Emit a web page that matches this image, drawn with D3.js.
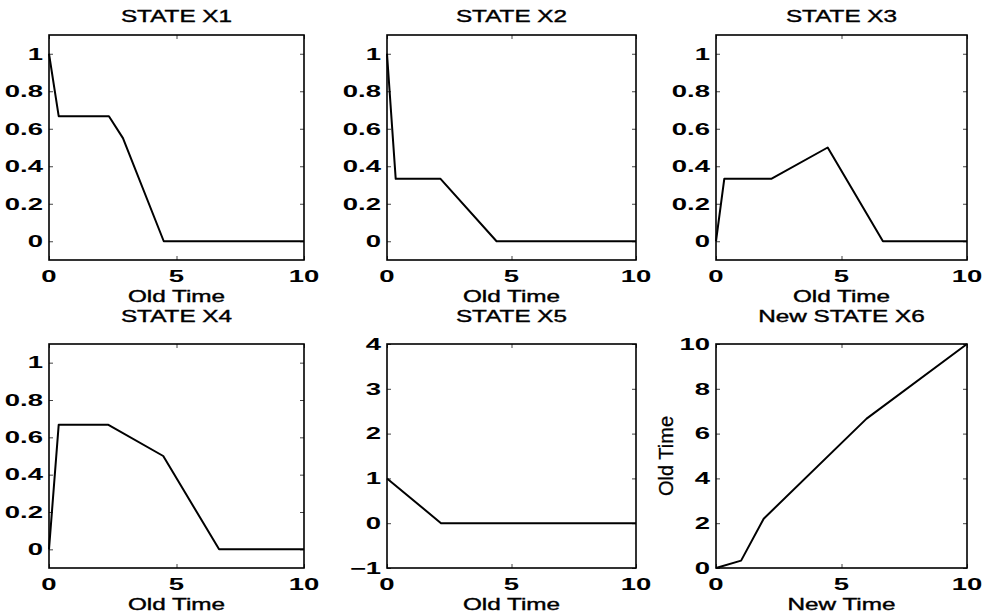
<!DOCTYPE html>
<html>
<head>
<meta charset="utf-8">
<script src="https://cdn.jsdelivr.net/npm/d3@7"></script>
<style>
  body { margin: 0; background: #fff; }
  text { font-family: "Liberation Sans", Arial, Helvetica, sans-serif; fill: #000; }
</style>
</head>
<body>
<div id="chart"></div>
<script>
// series (x = time, y = state value)
const x1Time = [0, 0.38, 2.35, 2.9, 4.5, 10];
const x1Vals = [1, 0.667, 0.667, 0.55, 0, 0];
const x2Time = [0, 0.35, 2.15, 4.4, 10];
const x2Vals = [1, 0.333, 0.333, 0, 0];
const x3Time = [0, 0.33, 2.2, 4.45, 6.65, 10];
const x3Vals = [0, 0.333, 0.333, 0.5, 0, 0];
const x4Time = [0, 0.38, 2.33, 4.48, 6.67, 10];
const x4Vals = [0, 0.667, 0.667, 0.5, 0, 0];
const x5Time = [0, 2.17, 10];
const x5Vals = [1, 0, 0];
const x6NewTime = [0, 1, 1.9, 6, 10];
const x6OldTime = [0, 0.33, 2.2, 6.67, 10];

const titles = ["STATE X1", "STATE X2", "STATE X3", "STATE X4", "STATE X5", "New STATE X6"];
const xLabels = ["Old Time", "Old Time", "Old Time", "Old Time", "Old Time", "New Time"];
const xTicks = [0, 5, 10];
const unitTicks = [0, 0.2, 0.4, 0.6, 0.8, 1];
const x5Ticks = [-1, 0, 1, 2, 3, 4];
const x6Ticks = [0, 2, 4, 6, 8, 10];

// the scan is stretched sideways, so the text is too
const TEXT_SX = 1.43;
const TICK_SX = 1.72;

const cols = [[49, 304], [387, 636], [716, 967]];
const rows = [{ top: 35, bottom: 260, titleY: 22 }, { top: 344, bottom: 568, titleY: 322 }];

var panels = [
  { t: x1Time, v: x1Vals, ydom: [-0.1, 1.1], yticks: unitTicks },
  { t: x2Time, v: x2Vals, ydom: [-0.1, 1.1], yticks: unitTicks },
  { t: x3Time, v: x3Vals, ydom: [-0.1, 1.1], yticks: unitTicks },
  { t: x4Time, v: x4Vals, ydom: [-0.1, 1.1], yticks: unitTicks },
  { t: x5Time, v: x5Vals, ydom: [-1, 4], yticks: x5Ticks },
  { t: x6NewTime, v: x6OldTime, ydom: [0, 10], yticks: x6Ticks, yLabel: "Old Time" },
];

var svg = d3
  .select("#chart")
  .append("svg")
  .attr("width", 986)
  .attr("height", 615);

function fmt(d) {
  return String(+d.toFixed(1)).replace("-", "\u2212");
}

panels.forEach(function (p, i) {
  var col = cols[i % 3];
  var row = rows[Math.floor(i / 3)];
  var x = d3.scaleLinear().domain([0, 10]).range(col);
  var y = d3.scaleLinear().domain(p.ydom).range([row.bottom, row.top]);
  var g = svg.append("g");

  // inward ticks on all four sides
  g.append("g")
    .attr("transform", "translate(0," + row.bottom + ")")
    .call(d3.axisBottom(x).tickValues(xTicks).tickSize(-4).tickSizeOuter(0).tickFormat(""));
  g.append("g")
    .attr("transform", "translate(0," + row.top + ")")
    .call(d3.axisTop(x).tickValues(xTicks).tickSize(-4).tickSizeOuter(0).tickFormat(""));
  g.append("g")
    .attr("transform", "translate(" + col[0] + ",0)")
    .call(d3.axisLeft(y).tickValues(p.yticks).tickSize(-4).tickSizeOuter(0).tickFormat(""));
  g.append("g")
    .attr("transform", "translate(" + col[1] + ",0)")
    .call(d3.axisRight(y).tickValues(p.yticks).tickSize(-4).tickSizeOuter(0).tickFormat(""));
  g.selectAll(".domain").remove();
  g.selectAll(".tick line").attr("stroke", "#444").attr("stroke-width", 1);

  // tick labels
  g.selectAll(".xlab")
    .data(xTicks)
    .enter()
    .append("text")
    .attr("transform", function (d) {
      return "translate(" + x(d) + "," + (row.bottom + 21.5) + ") scale(" + TICK_SX + ",1)";
    })
    .attr("text-anchor", "middle")
    .style("font-size", "16px")
    .style("font-weight", "bold")
    .text(fmt);
  g.selectAll(".ylab")
    .data(p.yticks)
    .enter()
    .append("text")
    .attr("transform", function (d) {
      return "translate(" + (col[0] - 6) + "," + (y(d) + 5.8) + ") scale(" + TICK_SX + ",1)";
    })
    .attr("text-anchor", "end")
    .style("font-size", "16px")
    .style("font-weight", "bold")
    .text(fmt);

  // frame
  g.append("rect")
    .attr("x", col[0])
    .attr("y", row.top)
    .attr("width", col[1] - col[0])
    .attr("height", row.bottom - row.top)
    .attr("fill", "none")
    .attr("stroke", "#000")
    .attr("stroke-width", 1.6);

  var line = d3
    .line()
    .x(function (d) { return x(d[0]); })
    .y(function (d) { return y(d[1]); });
  g.append("path")
    .datum(d3.zip(p.t, p.v))
    .attr("d", line)
    .attr("fill", "none")
    .attr("stroke", "#000")
    .attr("stroke-width", 2)
    .attr("stroke-linejoin", "round");

  var cx = (col[0] + col[1]) / 2;
  g.append("text")
    .attr("transform", "translate(" + cx + "," + row.titleY + ") scale(" + TEXT_SX + ",1)")
    .attr("text-anchor", "middle")
    .style("font-size", "17px")
    .style("stroke", "#000")
    .style("stroke-width", 0.4)
    .text(titles[i]);
  g.append("text")
    .attr("transform", "translate(" + cx + "," + (row.bottom + 42) + ") scale(" + TEXT_SX + ",1)")
    .attr("text-anchor", "middle")
    .style("font-size", "17px")
    .style("stroke", "#000")
    .style("stroke-width", 0.4)
    .text(xLabels[i]);
  if (p.yLabel) {
    g.append("text")
      .attr("transform", "translate(673," + (row.top + row.bottom) / 2 + ") rotate(-90)")
      .attr("text-anchor", "middle")
      .style("font-size", "20px")
      .style("stroke", "#000")
      .style("stroke-width", 0.3)
      .text(p.yLabel);
  }
});
</script>
</body>
</html>
